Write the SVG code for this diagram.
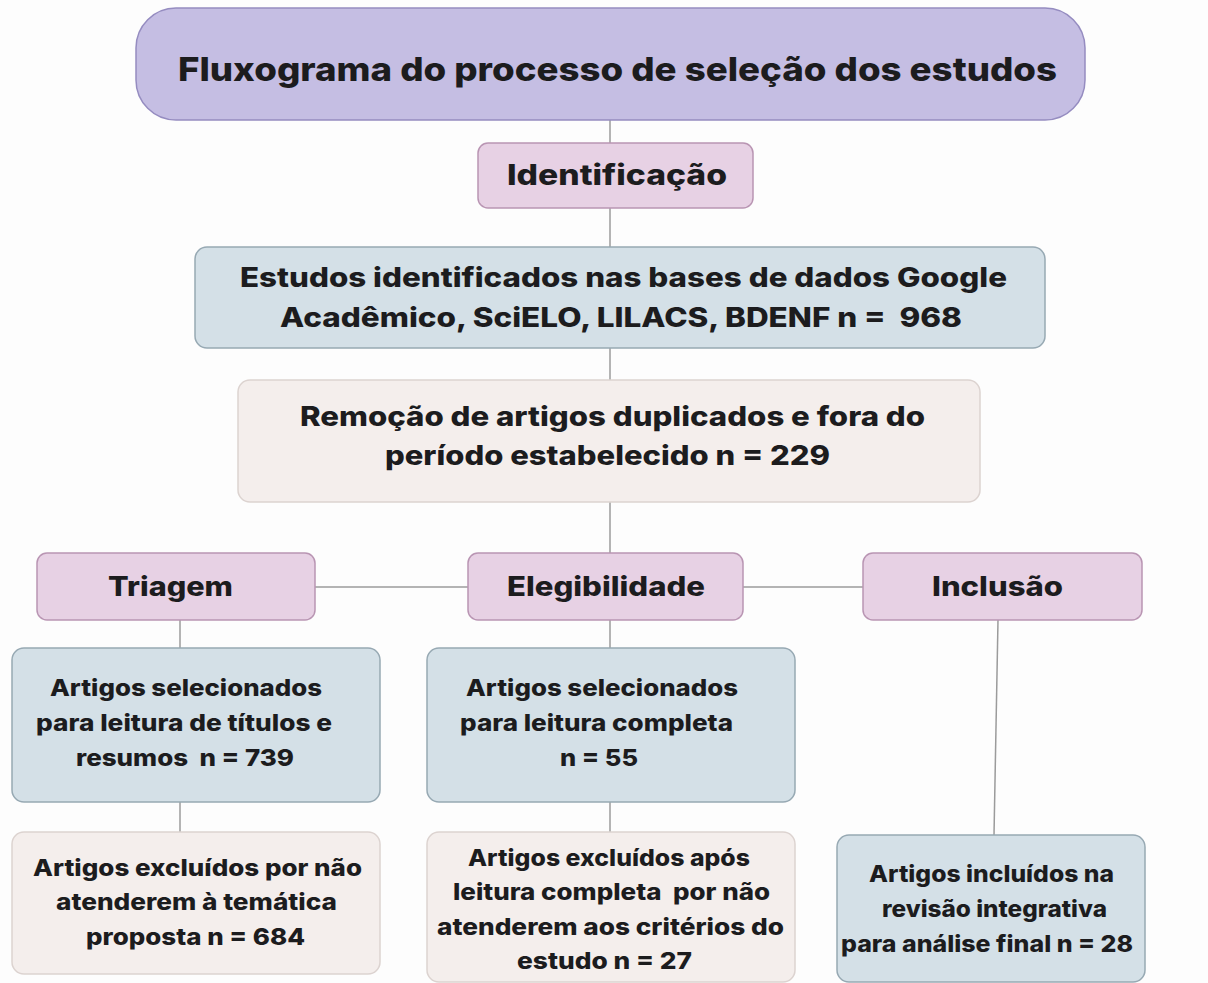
<svg xmlns="http://www.w3.org/2000/svg" width="1208" height="983" viewBox="0 0 1208 983">
<style>
text{font-family:Inter,"Noto Sans","Liberation Sans",sans-serif;font-weight:800;fill:#1c1c1e;text-anchor:middle;white-space:pre}
.title{fill:#c5bee3;stroke:#958cc0;stroke-width:1.5}
.phase{fill:#e7d1e4;stroke:#b995b3;stroke-width:1.5}
.blue{fill:#d4e0e7;stroke:#97a9b3;stroke-width:1.5}
.beige{fill:#f4eeec;stroke:#dcd3d0;stroke-width:1.5}
.conn line{stroke:#9b9b9b;stroke-width:1.5}
.t1{font-size:33px}.t2{font-size:28px}.t3{font-size:27px}.t4{font-size:23px}
</style>
<rect width="1208" height="983" fill="#fdfdfd"/>
<g class="conn">
<line x1="610" y1="120" x2="610" y2="143"/>
<line x1="610" y1="208" x2="610" y2="247"/>
<line x1="610" y1="348" x2="610" y2="380"/>
<line x1="610" y1="502" x2="610" y2="553"/>
<line x1="315" y1="587" x2="468" y2="587"/>
<line x1="743" y1="587" x2="863" y2="587"/>
<line x1="180" y1="620" x2="180" y2="648"/>
<line x1="610" y1="620" x2="610" y2="648"/>
<line x1="998" y1="620" x2="994" y2="835"/>
<line x1="180" y1="802" x2="180" y2="832"/>
<line x1="610" y1="802" x2="610" y2="832"/>
</g>
<g id="title"><rect class="title" x="136" y="8" width="949" height="112" rx="40"/><text class="t1" x="617.5" y="81" textLength="879" lengthAdjust="spacingAndGlyphs">Fluxograma do processo de seleção dos estudos</text></g>
<g id="identificacao"><rect class="phase" x="478" y="143" width="275" height="65" rx="10"/><text class="t2" x="617" y="185" textLength="220" lengthAdjust="spacingAndGlyphs">Identificação</text></g>
<g id="estudos"><rect class="blue" x="195" y="247" width="850" height="101" rx="12"/><text class="t3" x="623.5" y="287" textLength="767" lengthAdjust="spacingAndGlyphs">Estudos identificados nas bases de dados Google</text><text class="t3" x="621" y="327" textLength="682" lengthAdjust="spacingAndGlyphs" xml:space="preserve">Acadêmico, SciELO, LILACS, BDENF n =  968</text></g>
<g id="remocao"><rect class="beige" x="238" y="380" width="742" height="122" rx="12"/><text class="t3" x="612.5" y="426" textLength="625" lengthAdjust="spacingAndGlyphs">Remoção de artigos duplicados e fora do</text><text class="t3" x="607.5" y="465" textLength="445" lengthAdjust="spacingAndGlyphs">período estabelecido n = 229</text></g>
<g id="triagem"><rect class="phase" x="37" y="553" width="278" height="67" rx="10"/><text class="t3" x="170.5" y="596" textLength="125" lengthAdjust="spacingAndGlyphs">Triagem</text></g>
<g id="elegibilidade"><rect class="phase" x="468" y="553" width="275" height="67" rx="10"/><text class="t3" x="606" y="596" textLength="198" lengthAdjust="spacingAndGlyphs">Elegibilidade</text></g>
<g id="inclusao"><rect class="phase" x="863" y="553" width="279" height="67" rx="10"/><text class="t3" x="997.5" y="596" textLength="131" lengthAdjust="spacingAndGlyphs">Inclusão</text></g>
<g id="sel-titulos"><rect class="blue" x="12" y="648" width="368" height="154" rx="12"/><text class="t4" x="186" y="696" textLength="272" lengthAdjust="spacingAndGlyphs">Artigos selecionados</text><text class="t4" x="184" y="731" textLength="296" lengthAdjust="spacingAndGlyphs">para leitura de títulos e</text><text class="t4" x="185" y="766" textLength="218" lengthAdjust="spacingAndGlyphs" xml:space="preserve">resumos  n = 739</text></g>
<g id="sel-completa"><rect class="blue" x="427" y="648" width="368" height="154" rx="12"/><text class="t4" x="602" y="696" textLength="272" lengthAdjust="spacingAndGlyphs">Artigos selecionados</text><text class="t4" x="596.5" y="731" textLength="273" lengthAdjust="spacingAndGlyphs">para leitura completa</text><text class="t4" x="599" y="766" textLength="78" lengthAdjust="spacingAndGlyphs">n = 55</text></g>
<g id="excl-tematica"><rect class="beige" x="12" y="832" width="368" height="142" rx="12"/><text class="t4" x="197.5" y="876" textLength="329" lengthAdjust="spacingAndGlyphs">Artigos excluídos por não</text><text class="t4" x="196.5" y="910" textLength="281" lengthAdjust="spacingAndGlyphs">atenderem à temática</text><text class="t4" x="195.5" y="945" textLength="219" lengthAdjust="spacingAndGlyphs">proposta n = 684</text></g>
<g id="excl-criterios"><rect class="beige" x="427" y="832" width="368" height="150" rx="12"/><text class="t4" x="609" y="866" textLength="282" lengthAdjust="spacingAndGlyphs">Artigos excluídos após</text><text class="t4" x="611.5" y="900" textLength="317" lengthAdjust="spacingAndGlyphs" xml:space="preserve">leitura completa  por não</text><text class="t4" x="610.5" y="935" textLength="347" lengthAdjust="spacingAndGlyphs">atenderem aos critérios do</text><text class="t4" x="604.5" y="969" textLength="175" lengthAdjust="spacingAndGlyphs">estudo n = 27</text></g>
<g id="incluidos"><rect class="blue" x="837" y="835" width="308" height="147" rx="12"/><text class="t4" x="991.5" y="882" textLength="245" lengthAdjust="spacingAndGlyphs">Artigos incluídos na</text><text class="t4" x="994.5" y="917" textLength="225" lengthAdjust="spacingAndGlyphs">revisão integrativa</text><text class="t4" x="987" y="952" textLength="292" lengthAdjust="spacingAndGlyphs">para análise final n = 28</text></g>
</svg>
